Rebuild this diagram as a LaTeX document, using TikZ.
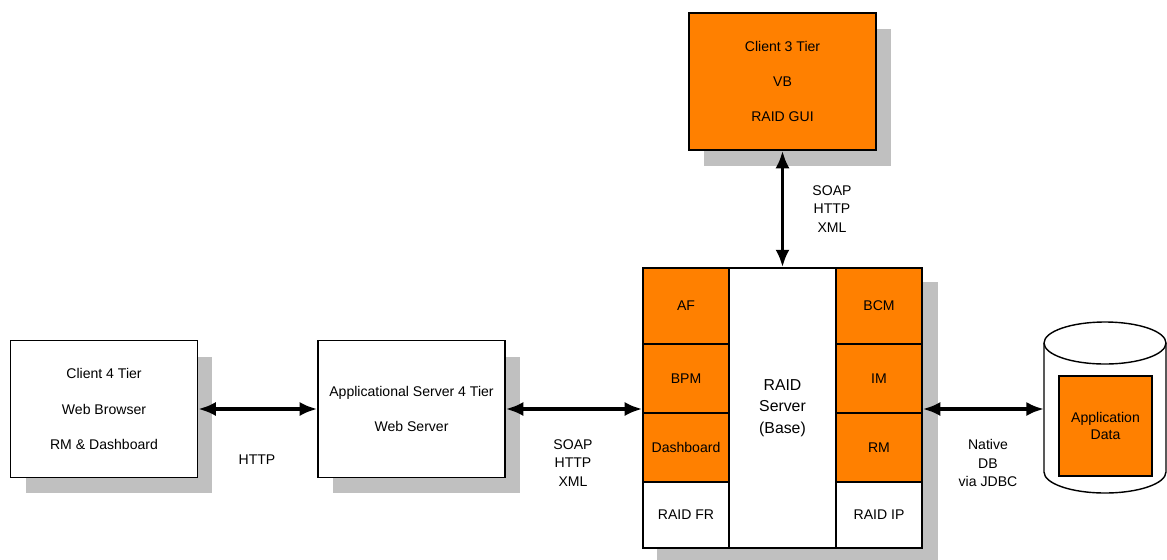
\documentclass[tikz,border=0pt]{standalone}
\usepackage{fontspec}
\setmainfont{Liberation Sans}
\usetikzlibrary{arrows.meta, fit, backgrounds, shadows}
\definecolor{raidorange}{HTML}{FF8000}
\definecolor{shadowgray}{HTML}{C0C0C0}

\begin{document}
\begin{tikzpicture}[x=0.02cm, y=-0.02cm,
  tier/.style={draw, line width=0.8pt, minimum width=3.74cm, minimum height=2.74cm,
               align=center, font=\fontsize{8}{20}\selectfont, fill=white,
               drop shadow={shadow xshift=0.3cm, shadow yshift=-0.32cm, fill=shadowgray, opacity=1}},
  cell/.style={draw, line width=0.8pt, minimum width=1.72cm, inner sep=0pt,
               font=\fontsize{8}{10}\selectfont, fill=raidorange},
  lbl/.style={align=center, font=\fontsize{8}{10.5}\selectfont},
  arr/.style={{Latex[length=10pt,width=8pt]}-{Latex[length=10pt,width=8pt]}, line width=2pt},
]
\useasboundingbox (0,0) rectangle (1167,559);

% tiers
\node[tier, fill=raidorange] (client3) at (782.5,81.5) {Client 3 Tier\\VB\\RAID GUI};
\node[tier] (client4) at (104,409)    {Client 4 Tier\\Web Browser\\RM \& Dashboard};
\node[tier] (appsrv)  at (411.5,409)  {Applicational Server 4 Tier\\Web Server};

% RAID server
\node[cell, minimum height=1.52cm] (af)     at (686,306)   {AF};
\node[cell, minimum height=1.38cm] (bpm)    at (686,378.5) {BPM};
\node[cell, minimum height=1.38cm] (dash)   at (686,447.5) {Dashboard};
\node[cell, minimum height=1.32cm, fill=white] (raidfr) at (686,515) {RAID FR};
\node[draw, line width=0.8pt, fill=white, minimum width=2.14cm, minimum height=5.6cm,
      align=center, font=\fontsize{9}{12.2}\selectfont] (base) at (782.5,408) {RAID\\Server\\(Base)};
\node[cell, minimum height=1.52cm] (bcm)    at (879,306)   {BCM};
\node[cell, minimum height=1.38cm] (im)     at (879,378.5) {IM};
\node[cell, minimum height=1.38cm] (rm)     at (879,447.5) {RM};
\node[cell, minimum height=1.32cm, fill=white] (raidip) at (879,515) {RAID IP};
\begin{scope}[on background layer]
\node[fit=(af)(raidip), inner sep=0pt, fill=white,
      drop shadow={shadow xshift=0.3cm, shadow yshift=-0.3cm, fill=shadowgray, opacity=1}] (raid) {};
\end{scope}

% database
\draw[line width=0.8pt, fill=white] (1044,343) -- (1044,472)
  arc[start angle=180, end angle=360, x radius=1.22cm, y radius=0.42cm] -- (1166,343);
\draw[line width=0.8pt, fill=white] (1105,343) ellipse[x radius=1.22cm, y radius=0.42cm];
\node[draw, line width=0.8pt, fill=raidorange, minimum width=1.86cm, minimum height=2cm,
      align=center, font=\fontsize{8}{10}\selectfont] (appdata) at (1105.5,426) {Application\\Data};
\coordinate (db) at (1044,409);

% connectors
\draw[arr] (client4.east) -- (appsrv.west);
\draw[arr] (appsrv.east) -- (appsrv.east -| af.west);
\draw[arr] (db -| bcm.east) -- (db);
\draw[arr] (client3.south) -- (base.north);

\node[lbl] (lhttp)  at (257,460) {HTTP};
\node[lbl] (lsoapa) at (573,463) {SOAP\\HTTP\\XML};
\node[lbl] (ljdbc)  at (988,463) {Native\\DB\\via JDBC};
\node[lbl] (lsoapb) at (832,209) {SOAP\\HTTP\\XML};
\end{tikzpicture}
\end{document}
